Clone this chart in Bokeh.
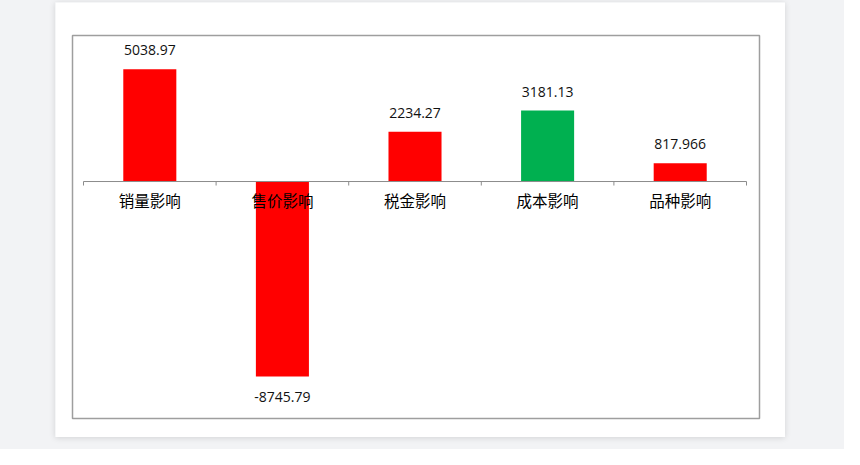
import math
from bokeh.plotting import figure
from bokeh.models import ColumnDataSource, Range1d, Spacer
from bokeh.layouts import column, row
from bokeh.core.properties import value
from bokeh.embed import file_html
from bokeh.resources import INLINE

categories = ["销量影响", "售价影响", "税金影响", "成本影响", "品种影响"]
values = [5038.97, -8745.79, 2234.27, 3181.13, 817.966]
colors = ["#FF0000", "#FF0000", "#FF0000", "#00B050", "#FF0000"]

n = len(categories)
centers = [i + 0.5 for i in range(n)]
src = ColumnDataSource(dict(
    x=centers,
    top=values,
    color=colors,
    label=[str(v) for v in values],
    cat=categories,
    zero=[0] * n,
    yoff=[-19 if v >= 0 else 21 for v in values],
))

p = figure(width=730, height=435, output_backend="svg", toolbar_location=None,
           x_range=Range1d(-0.083, 5.098), y_range=Range1d(-10630, 6550),
           min_border_left=17, min_border_right=26, min_border_top=33, min_border_bottom=19,
           background_fill_color="white", border_fill_color="white",
           outline_line_color="#9e9e9e", outline_line_width=1.5)
p.axis.visible = False
p.grid.visible = False
p.styles = {"box-shadow": "0 1px 6px rgba(0,0,0,0.13)"}

p.vbar(x="x", top="top", bottom=0, width=0.4, color="color", line_color=None, source=src)

# zero axis line with boundary ticks
p.segment(x0=[0], y0=[0], x1=[n], y1=[0], line_color="#8c8c8c", line_width=1)
p.ray(x=list(range(n + 1)), y=[0] * (n + 1), length=4, length_units="screen",
      angle=-math.pi / 2, line_color="#8c8c8c", line_width=1)

# category labels
p.text(x="x", y="zero", text="cat", source=src, y_offset=18,
       text_align="center", text_baseline="middle",
       text_font=value("Noto Sans CJK SC"), text_font_size="15.5px", text_color="#000000")

# value labels
p.text(x="x", y="top", text="label", source=src, y_offset="yoff",
       text_align="center", text_baseline="middle",
       text_font=value("Open Sans"), text_font_size="14px", text_color="#111111")

layout = column(Spacer(height=2), row(Spacer(width=55), p),
                width=844, height=449,
                styles={"background-color": "#f2f3f5"})

open("out.html", "w").write(file_html(layout, INLINE))
